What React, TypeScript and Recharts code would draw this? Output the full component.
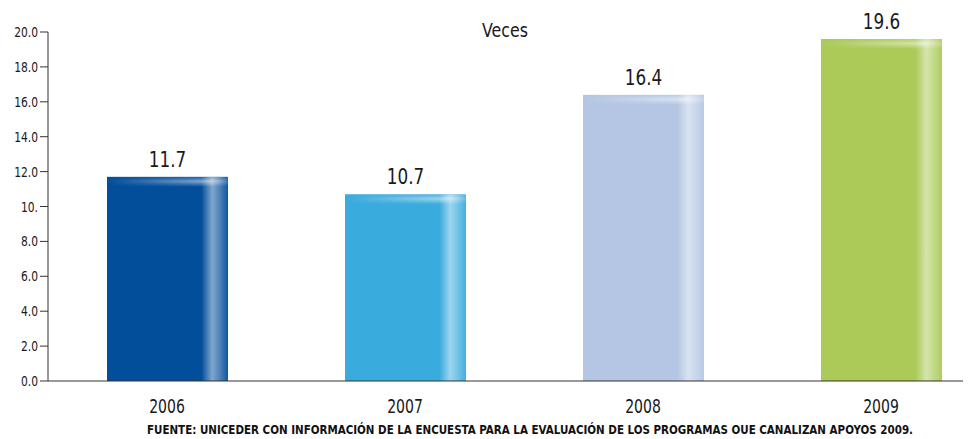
import { BarChart, Bar, XAxis, YAxis, LabelList, Cell } from 'recharts';

const years = ['2006', '2007', '2008', '2009'];
const veces = [11.7, 10.7, 16.4, 19.6];
const colors = ['#034e9b', '#3aabdd', '#b4c6e3', '#abca58'];
const yTicks = [0, 2, 4, 6, 8, 10, 12, 14, 16, 18, 20];
const yTickLabels = ['0.0', '2.0', '4.0', '6.0', '8.0', '10.', '12.0', '14.0', '16.0', '18.0', '20.0'];
const footer = 'FUENTE: UNICEDER CON INFORMACIÓN DE LA ENCUESTA PARA LA EVALUACIÓN DE LOS PROGRAMAS OUE CANALIZAN APOYOS 2009.';

const data = years.map((year, i) => ({ year, value: veces[i], fill: colors[i] }));

const font = '"DejaVu Sans Condensed", "Liberation Sans", sans-serif';

// narrow text, squeezed horizontally to look like the condensed font in the original
function Narrow({ x, y, size, anchor, children, sx = 0.8 }: any) {
  return (
    <text
      transform={`translate(${x},${y}) scale(${sx},1)`}
      textAnchor={anchor}
      fontSize={size}
      fill="#1a1a1a"
      fontFamily={font}
    >
      {children}
    </text>
  );
}

function ShinyBar(props: any) {
  const { x, y, width, height, fill, index } = props;
  if (!height || height <= 0) return null;
  const id = `g${index}`;
  return (
    <g>
      <defs>
        <linearGradient id={`${id}h`} x1="0" y1="0" x2="1" y2="0">
          <stop offset="0.78" stopColor="#fff" stopOpacity={0} />
          <stop offset="0.87" stopColor="#fff" stopOpacity={0.5} />
          <stop offset="0.93" stopColor="#fff" stopOpacity={0.3} />
          <stop offset="1" stopColor="#fff" stopOpacity={0.05} />
        </linearGradient>
        <linearGradient id={`${id}v`} x1="0" y1="0" x2="0" y2="1">
          <stop offset="0" stopColor="#fff" stopOpacity={0.1} />
          <stop offset="0.45" stopColor="#fff" stopOpacity={0.55} />
          <stop offset="1" stopColor="#fff" stopOpacity={0} />
        </linearGradient>
        <linearGradient id={`${id}t`} x1="0" y1="0" x2="1" y2="0">
          <stop offset="0" stopColor="#fff" stopOpacity={0} />
          <stop offset="0.85" stopColor="#fff" stopOpacity={1} />
          <stop offset="1" stopColor="#fff" stopOpacity={0.3} />
        </linearGradient>
        <mask id={`${id}m`}>
          <rect x={x} y={y} width={width} height={10} fill={`url(#${id}t)`} />
        </mask>
      </defs>
      <rect x={x} y={y} width={width} height={height} fill={fill} />
      <rect x={x} y={y} width={width} height={height} fill={`url(#${id}h)`} />
      <rect x={x} y={y} width={width} height={10} fill={`url(#${id}v)`} mask={`url(#${id}m)`} />
    </g>
  );
}

function YTick(props: any) {
  const { x, y, payload } = props;
  const i = yTicks.indexOf(payload.value);
  return (
    <Narrow x={x} y={y + 5} size={14} anchor="end" sx={0.85}>
      {yTickLabels[i]}
    </Narrow>
  );
}

function XTick(props: any) {
  const { x, y, payload } = props;
  return (
    <Narrow x={x} y={y + 24} size={20} anchor="middle" sx={0.78}>
      {payload.value}
    </Narrow>
  );
}

function ValueLabel(props: any) {
  const { x, y, width, value } = props;
  return (
    <Narrow x={x + width / 2} y={y - 10} size={22} anchor="middle" sx={0.85}>
      {Number(value).toFixed(1)}
    </Narrow>
  );
}

export default function App() {
  return (
    <div style={{ position: 'relative', width: 963, height: 431, background: '#fff' }}>
      <BarChart width={963} height={415} data={data} margin={{ top: 24, right: -29, bottom: 0, left: 0 }}>
        <XAxis
          dataKey="year"
          height={42}
          tickLine={false}
          axisLine={{ stroke: '#333' }}
          tick={<XTick />}
        />
        <YAxis
          width={40}
          domain={[0, 20]}
          ticks={yTicks}
          interval={0}
          tickSize={8}
          tickLine={{ stroke: '#333' }}
          axisLine={{ stroke: '#333' }}
          tick={<YTick />}
        />
        <Bar dataKey="value" barSize={121} isAnimationActive={false} shape={<ShinyBar />}>
          {data.map((d) => (
            <Cell key={d.year} fill={d.fill} />
          ))}
          <LabelList dataKey="value" content={<ValueLabel />} />
        </Bar>
      </BarChart>
      <svg width={963} height={40} style={{ position: 'absolute', left: 0, top: 0, pointerEvents: 'none' }}>
        <Narrow x={497} y={29} size={20} anchor="middle" sx={0.88}>
          Veces
        </Narrow>
      </svg>
      <svg width={963} height={26} style={{ position: 'absolute', left: 0, top: 405, pointerEvents: 'none' }}>
        <text
          x={139}
          y={21}
          textLength={766}
          lengthAdjust="spacingAndGlyphs"
          fontSize={12}
          fontWeight="bold"
          fontFamily={font}
          fill="#111"
        >
          {footer}
        </text>
      </svg>
    </div>
  );
}
